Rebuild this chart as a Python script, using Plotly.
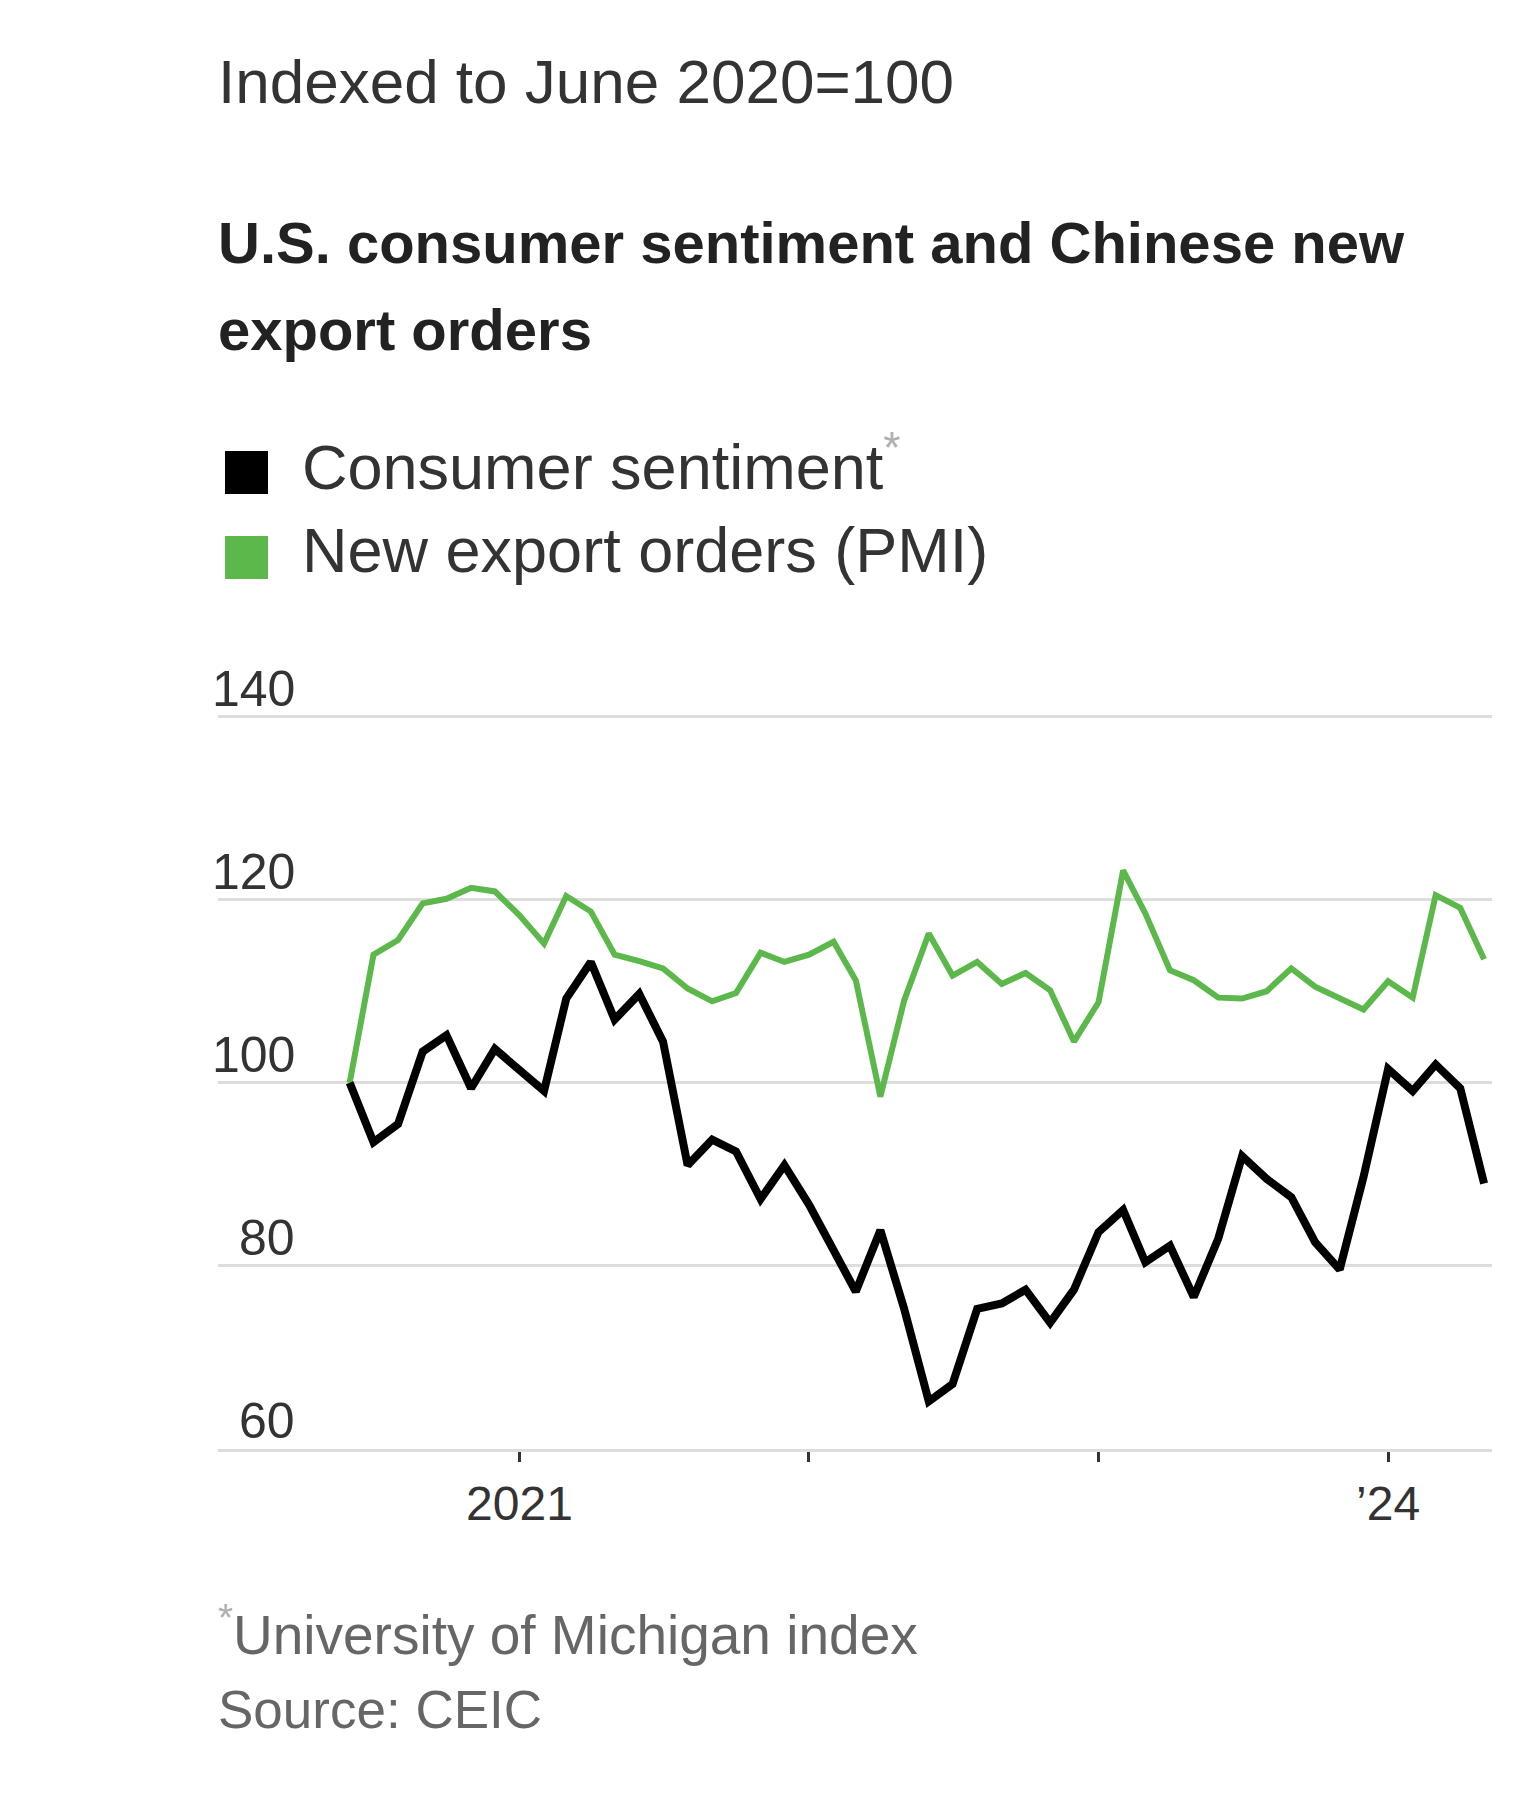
import plotly.graph_objects as go

# monthly data, June 2020 = 100
months = [
    "2020-06-01", "2020-07-01", "2020-08-01", "2020-09-01", "2020-10-01", "2020-11-01", "2020-12-01",
    "2021-01-01", "2021-02-01", "2021-03-01", "2021-04-01", "2021-05-01", "2021-06-01",
    "2021-07-01", "2021-08-01", "2021-09-01", "2021-10-01", "2021-11-01", "2021-12-01",
    "2022-01-01", "2022-02-01", "2022-03-01", "2022-04-01", "2022-05-01", "2022-06-01",
    "2022-07-01", "2022-08-01", "2022-09-01", "2022-10-01", "2022-11-01", "2022-12-01",
    "2023-01-01", "2023-02-01", "2023-03-01", "2023-04-01", "2023-05-01", "2023-06-01",
    "2023-07-01", "2023-08-01", "2023-09-01", "2023-10-01", "2023-11-01", "2023-12-01",
    "2024-01-01", "2024-02-01", "2024-03-01", "2024-04-01", "2024-05-01",
]

consumer_sentiment = [
    100, 93.5, 95.5, 103.4, 105.2, 99.4, 103.7,
    101.5, 99.1, 109.2, 113.2, 106.9, 109.7, 104.5, 91.0, 93.8, 92.5, 87.3, 91.0,
    86.7, 81.9, 77.2, 83.9, 75.3, 65.2, 67.1, 75.3, 75.9, 77.4, 73.8, 77.4,
    83.7, 86.1, 80.4, 82.2, 76.6, 83.0, 92.0, 89.5, 87.5, 82.6, 79.6, 89.7,
    101.5, 99.1, 102.0, 99.4, 89.0,
]

export_orders = [
    100, 114.0, 115.6, 119.6, 120.1, 121.3, 120.9,
    118.3, 115.2, 120.4, 118.7, 114.0, 113.3, 112.5, 110.3, 108.9, 109.8, 114.2, 113.2,
    114.0, 115.4, 111.2, 98.5, 109.0, 116.3, 111.7, 113.2, 110.8, 112.0, 110.1, 104.5,
    108.8, 123.2, 118.5, 112.3, 111.2, 109.3, 109.2, 110.0, 112.5, 110.5, 109.2, 108.0,
    111.1, 109.3, 120.5, 119.1, 113.5,
]

y_ticks = [60, 80, 100, 120, 140]
year_ticks = ["2021-01-01", "2022-01-01", "2023-01-01", "2024-01-01"]
label_ticks = ["2021-01-01", "2024-01-01"]
label_text = ["2021", "\u201924"]

FONT = "Liberation Sans, Arial, sans-serif"
GREEN = "#5cb84b"

# page has an 8px body margin, so the figure is shrunk and every position shifted
OFF = 8
W, H = 1534 - OFF, 1800 - OFF
X0, X1 = 218 - OFF, 1492 - OFF   # plot area left/right
Y0, Y1 = 712 - OFF, 1449 - OFF   # plot area top (140.5) / bottom (60)


def px_x(px):
    return (px - OFF - X0) / (X1 - X0)


def px_y(py):
    return (Y1 - (py - OFF)) / (Y1 - Y0)


fig = go.Figure()

fig.add_trace(go.Scatter(x=months, y=export_orders, mode="lines",
                         line=dict(color=GREEN, width=6),
                         name="New export orders (PMI)", showlegend=False))
fig.add_trace(go.Scatter(x=months, y=consumer_sentiment, mode="lines",
                         line=dict(color="#000000", width=8),
                         name="Consumer sentiment", showlegend=False))

annotations = []


def add_text(text, px, py, size, color, anchor="left"):
    annotations.append(dict(text=text, xref="paper", yref="paper",
                            x=px_x(px), y=px_y(py), xanchor=anchor, yanchor="middle",
                            showarrow=False, font=dict(family=FONT, size=size, color=color)))


star = "<span style='color:#b0b0b0'><sup>*</sup></span>"
add_text("Indexed to June 2020=100", 216, 81, 62, "#333333")
add_text("<b>U.S. consumer sentiment and Chinese new</b>", 216, 243, 58, "#222222")
add_text("<b>export orders</b>", 216, 329, 58, "#222222")
add_text("Consumer sentiment" + star, 300, 462, 63, "#333333")
add_text("New export orders (PMI)", 300, 550, 63, "#333333")
add_text(star + "University of Michigan index", 216, 1631, 55, "#666666")
add_text("Source: CEIC", 216, 1709, 53, "#666666")

# y tick labels sit above their gridlines, right-aligned
for v in y_ticks:
    annotations.append(dict(text=str(v), xref="paper", yref="y", x=px_x(297), y=v,
                            xanchor="right", yanchor="bottom", yshift=-2, showarrow=False,
                            font=dict(family=FONT, size=50, color="#333333")))

shapes = []
for top, col in [(451, "#000000"), (536, GREEN)]:
    shapes.append(dict(type="rect", xref="paper", yref="paper",
                       x0=px_x(225), x1=px_x(268), y0=px_y(top + 43), y1=px_y(top),
                       fillcolor=col, line=dict(width=0)))

fig.update_layout(
    width=W, height=H,
    margin=dict(l=X0, r=W - X1, t=Y0, b=H - Y1, pad=0),
    paper_bgcolor="white", plot_bgcolor="white",
    annotations=annotations, shapes=shapes,
    showlegend=False,
    xaxis=dict(type="date", range=["2019-12-18", "2024-05-11"],
               tickvals=label_ticks, ticktext=label_text,
               ticks="outside", ticklen=10, tickwidth=3, tickcolor="#333333",
               minor=dict(tickvals=year_ticks, ticks="outside", ticklen=10,
                          tickwidth=3, tickcolor="#333333", showgrid=False),
               showgrid=False, zeroline=False,
               showline=True, linecolor="#dddddd", linewidth=3,
               tickfont=dict(family=FONT, size=48, color="#333333")),
    yaxis=dict(range=[60, 140.5], tickvals=y_ticks, showticklabels=False,
               showgrid=True, gridcolor="#dddddd", gridwidth=3,
               zeroline=False, showline=False, ticks=""),
)

fig.write_html("out.html")
